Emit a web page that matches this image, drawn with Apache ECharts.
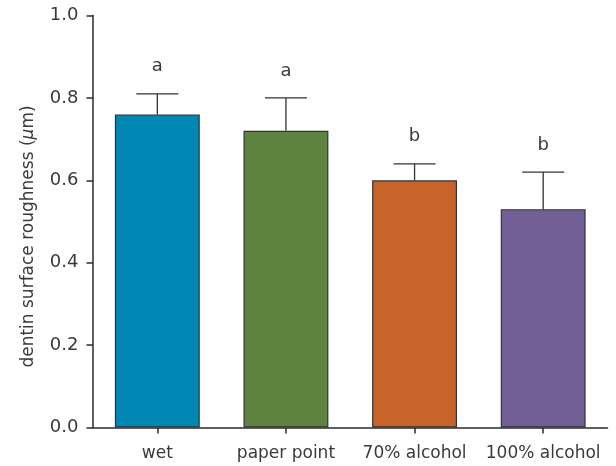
<!DOCTYPE html>
<html><head><meta charset="utf-8">
<script src="https://cdn.jsdelivr.net/npm/echarts@6/dist/echarts.min.js"></script>
<style>html,body{margin:0;padding:0;background:#fff}#c{width:616px;height:466px}</style>
</head><body><div id="c"></div>
<script>
const categories = ['wet', 'paper point', '70% alcohol', '100% alcohol'];
const means = [0.76, 0.72, 0.60, 0.53];
const errTops = [0.81, 0.80, 0.64, 0.62];
const letters = ['a', 'a', 'b', 'b'];
const colors = ['#0087B4', '#5E823F', '#C8632A', '#725F96'];
const yAxisTitle = 'dentin surface roughness (';

const FONT = 'DejaVu Sans';
const TXT = '#3a3a3a';
const chart = echarts.init(document.getElementById('c'));
chart.setOption({
  animation: false,
  grid: {left: 93, right: 8.5, top: 15.5, bottom: 38.5},
  graphic: [{
    type: 'text', x: 29, y: 236.5, rotation: Math.PI / 2,
    style: {
      text: '{n|' + yAxisTitle + '}{i|μ}{n|m)}',
      align: 'center', verticalAlign: 'middle',
      rich: {
        n: {fontSize: 17, fontFamily: FONT, fill: TXT},
        i: {fontSize: 17, fontFamily: FONT, fill: TXT, fontStyle: 'italic'}
      }
    }
  }],
  xAxis: {
    type: 'category', data: categories,
    axisLine: {lineStyle: {color: '#2a2a2a', width: 1.5}},
    axisTick: {show: true, alignWithLabel: true, interval: 0, length: 6, lineStyle: {color: '#2a2a2a', width: 1.5}},
    axisLabel: {color: TXT, fontSize: 17, fontFamily: FONT, margin: 18, interval: 0}
  },
  yAxis: {
    type: 'value', min: 0, max: 1, interval: 0.2,
    axisLine: {show: true, lineStyle: {color: '#2a2a2a', width: 1.5}},
    axisTick: {show: true, length: 6.5, lineStyle: {color: '#2a2a2a', width: 1.5}},
    splitLine: {show: false},
    axisLabel: {color: TXT, fontSize: 18, fontFamily: FONT, margin: 14.5,
      formatter: v => v.toFixed(1)}
  },
  series: [
    {
      type: 'bar', barWidth: '66%',
      data: means.map((v, i) => ({value: v, itemStyle: {color: colors[i]}})),
      itemStyle: {borderColor: '#333', borderWidth: 1.2}
    },
    {
      type: 'custom',
      data: means.map((v, i) => [i, v, errTops[i]]),
      renderItem: function (params, api) {
        const x = api.value(0);
        const lo = api.coord([x, api.value(1)]);
        const hi = api.coord([x, api.value(2)]);
        const half = 21;
        const letter = letters[params.dataIndex];
        return {
          type: 'group', children: [
            {type: 'line', shape: {x1: lo[0], y1: lo[1], x2: hi[0], y2: hi[1]}, style: {stroke: '#333', lineWidth: 1.3}},
            {type: 'line', shape: {x1: hi[0] - half, y1: hi[1], x2: hi[0] + half, y2: hi[1]}, style: {stroke: '#333', lineWidth: 1.3}},
            {type: 'text', x: hi[0], y: hi[1] - 27, style: {text: letter, fill: TXT, fontSize: 18, fontFamily: FONT, align: 'center', verticalAlign: 'middle'}}
          ]
        };
      },
      z: 3
    }
  ]
});
</script></body></html>
